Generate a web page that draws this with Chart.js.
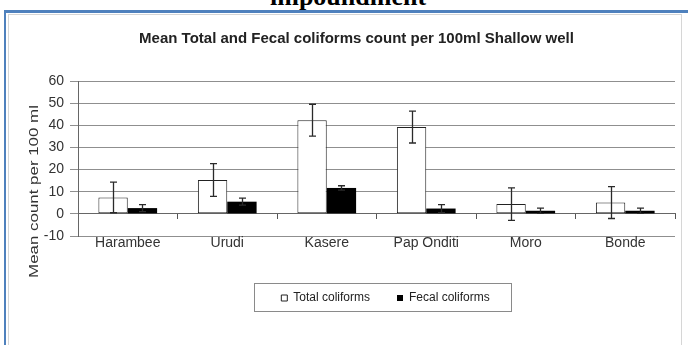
<!DOCTYPE html>
<html>
<head>
<meta charset="utf-8">
<script src="https://cdn.jsdelivr.net/npm/chart.js@4.4.1/dist/chart.umd.min.js"></script>
<style>
  html, body { margin: 0; padding: 0; background: #fff; width: 688px; height: 345px; overflow: hidden; position: relative; }
  #caption { position: absolute; left: 270px; top: -16px; font: bold 26px "Liberation Serif", "Times New Roman", serif; line-height: 26px; color: #000; white-space: nowrap; }
  #frame { position: absolute; left: 4px; top: 10px; width: 720px; height: 400px; border-top: 3px solid #4f81bd; border-left: 2px solid #4f81bd; }
  #plotbox { position: absolute; left: 8px; top: 14px; width: 672px; height: 400px; border: 1px solid #d6d6d6; }
  #chart { position: absolute; left: 0; top: 0; }
</style>
</head>
<body>
<div id="caption">impoundment</div>
<div id="frame"></div>
<div id="plotbox"></div>
<canvas id="chart" width="688" height="345"></canvas>
<script>
// Sampling sites
const categories = ['Harambee', 'Urudi', 'Kasere', 'Pap Onditi', 'Moro', 'Bonde'];
// Mean counts per 100 ml and their error margins
const totalColiforms = [7.4, 15.3, 42.3, 39.2, 4.4, 5.1];
const totalErr = [6.9, 7.4, 7.2, 7.2, 7.3, 7.2];
const fecalColiforms = [2.6, 5.5, 11.7, 2.4, 1.4, 1.4];
const fecalErr = [1.6, 1.6, 1.0, 1.8, 1.2, 1.2];
// Value axis range and step
const yMin = -10, yMax = 60, yStep = 10;
const seriesNames = ['Total coliforms', 'Fecal coliforms'];
const chartTitle = 'Mean Total and Fecal coliforms count per 100ml Shallow well';
const yTitle = 'Mean count per 100 ml';

const FONT = '"Liberation Sans", Arial, sans-serif';
Chart.defaults.font.family = FONT;

// Whiskers for each bar, from value - err to value + err
const errorBars = {
  id: 'errorBars',
  afterDatasetsDraw(chart) {
    const ctx = chart.ctx, y = chart.scales.y;
    const errs = [totalErr, fecalErr];
    chart.data.datasets.forEach((ds, di) => {
      const meta = chart.getDatasetMeta(di);
      meta.data.forEach((bar, i) => {
        const v = ds.data[i], e = errs[di][i];
        const top = y.getPixelForValue(v + e), bot = y.getPixelForValue(v - e);
        const x = Math.round(bar.x) + 0.5;
        ctx.save();
        ctx.strokeStyle = '#2a2a2a';
        ctx.lineWidth = 1.3;
        ctx.beginPath();
        ctx.moveTo(x, top); ctx.lineTo(x, bot);
        ctx.moveTo(x - 3.5, top); ctx.lineTo(x + 3.5, top);
        ctx.moveTo(x - 3.5, bot); ctx.lineTo(x + 3.5, bot);
        ctx.stroke();
        ctx.restore();
      });
    });
  }
};

// Rotated value-axis title, slightly stretched along its length
const valueAxisTitle = {
  id: 'valueAxisTitle',
  afterDraw(chart) {
    const ctx = chart.ctx, a = chart.chartArea;
    ctx.save();
    ctx.translate(a.left - 44, (a.top + a.bottom) / 2 + 33);
    ctx.rotate(-Math.PI / 2);
    ctx.scale(1.3, 1);
    ctx.font = '13px ' + FONT;
    ctx.fillStyle = '#333';
    ctx.textAlign = 'center';
    ctx.textBaseline = 'middle';
    ctx.fillText(yTitle, 0, 0);
    ctx.restore();
  }
};

// Nudge the legend and draw a frame round it
const legendFrame = {
  id: 'legendFrame',
  afterLayout(chart) {
    chart.legend.left += 9;
    chart.legend.right += 9;
  },
  afterDraw(chart) {
    const hb = chart.legend.legendHitBoxes;
    if (!hb || !hb.length) return;
    const last = hb[hb.length - 1];
    const l = Math.round(hb[0].left - 27), r = Math.round(last.left + last.width + 21);
    const cy = hb[0].top + hb[0].height / 2;
    const ctx = chart.ctx;
    ctx.save();
    ctx.strokeStyle = '#8a8a8a';
    ctx.lineWidth = 1;
    ctx.strokeRect(l + 0.5, Math.round(cy - 15) + 0.5, r - l, 28);
    ctx.restore();
  }
};

new Chart(document.getElementById('chart'), {
  type: 'bar',
  data: {
    labels: categories,
    datasets: [
      { label: seriesNames[0], data: totalColiforms, backgroundColor: '#ffffff', borderColor: '#222', borderWidth: 1, borderSkipped: false },
      { label: seriesNames[1], data: fecalColiforms, backgroundColor: '#000000', borderColor: '#000', borderWidth: 0 }
    ]
  },
  options: {
    responsive: false,
    animation: false,
    devicePixelRatio: 1,
    datasets: { bar: { categoryPercentage: 0.59, barPercentage: 1 } },
    layout: { padding: { left: 38, right: 13, top: 20, bottom: 31 } },
    scales: {
      // Category names along the bottom of the plot
      x: {
        position: 'bottom',
        offset: true,
        grid: { display: false, drawTicks: false },
        border: { display: false },
        ticks: { font: { size: 14 }, color: '#333', padding: -1, maxRotation: 0, autoSkip: false },
        afterFit(s) { s.height = 29; }
      },
      // Category axis line crossing at zero, with tick marks between sites
      xZero: {
        type: 'category',
        labels: categories,
        position: { y: 0 },
        offset: true,
        grid: { display: true, drawOnChartArea: false, offset: true, tickLength: 5, color: '#555', tickColor: '#555' },
        border: { display: true, color: '#666', width: 1 },
        ticks: { display: false }
      },
      y: {
        min: yMin, max: yMax,
        ticks: { stepSize: yStep, font: { size: 14 }, color: '#333', padding: 6 },
        grid: { color: '#8f8f8f', tickLength: 8, tickColor: '#8f8f8f', lineWidth: 1 },
        border: { display: true, color: '#666' },
        afterFit(s) { s.width = 40; }
      }
    },
    plugins: {
      title: {
        display: true, text: chartTitle, color: '#222',
        font: { size: 15, weight: 'bold' },
        padding: { top: 10, bottom: 33 }
      },
      legend: {
        position: 'bottom', fullSize: false,
        labels: { boxWidth: 6, boxHeight: 6, padding: 27, font: { size: 12 }, color: '#222' }
      },
      tooltip: { enabled: false }
    }
  },
  plugins: [errorBars, valueAxisTitle, legendFrame]
});
</script>
</body>
</html>
